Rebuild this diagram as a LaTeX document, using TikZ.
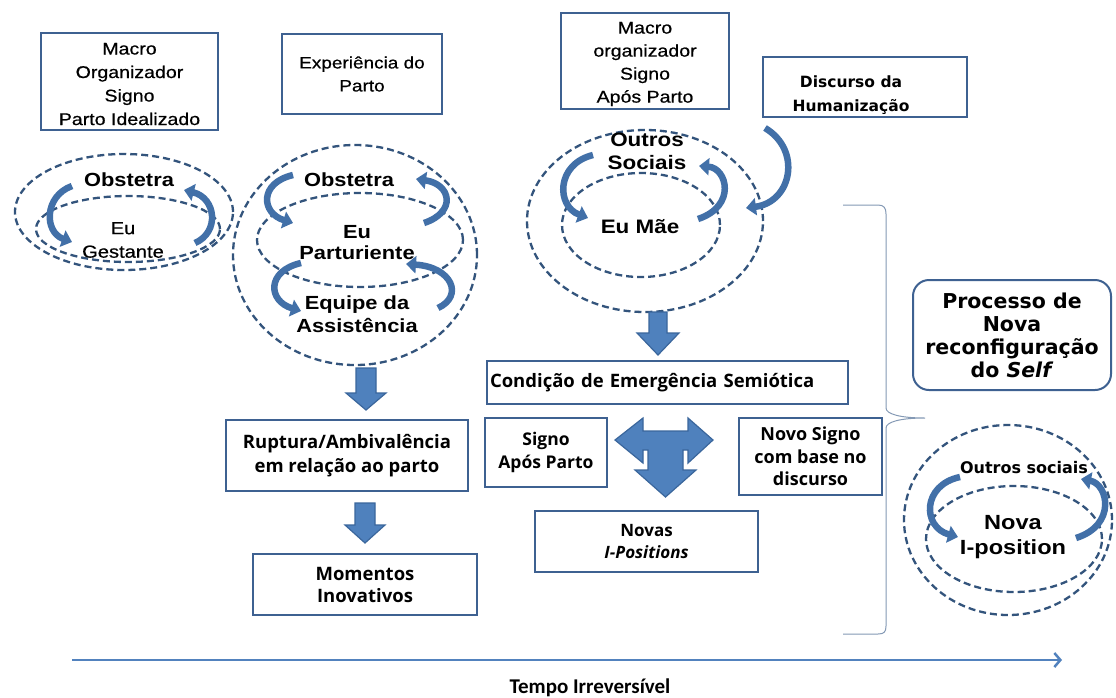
\documentclass[tikz,border=0pt]{standalone}
\usepackage{fontspec}
\setmainfont{Liberation Sans}
\newfontfamily\fa[FakeStretch=1.15]{Liberation Sans}
\newfontfamily\fm[FakeStretch=1.15,FakeBold=0.6]{Liberation Sans}
\newfontfamily\fs{Open Sans}
\newfontfamily\fv{DejaVu Sans}
\newfontfamily\fc{Carlito}
\usetikzlibrary{arrows.meta,shapes.geometric}
\definecolor{boxblue}{HTML}{3E6191}
\definecolor{dashblue}{HTML}{33547C}
\definecolor{arrfill}{HTML}{4F81BD}
\definecolor{arrline}{HTML}{3A669C}
\definecolor{curveblue}{HTML}{4270A8}
\definecolor{timeblue}{HTML}{5282BE}
\definecolor{bracec}{HTML}{8499B5}
\tikzset{
  box/.style={draw=boxblue, line width=2pt, fill=white, inner sep=0pt, align=center},
  plain/.style={inner sep=0pt, align=center},
  dashell/.style={ellipse, draw=dashblue, line width=2.3pt, dash pattern=on 7pt off 4pt, inner sep=0pt},
  ctext/.style={inner sep=0pt, align=center, font=\fa\bfseries\fontsize{18}{23}\selectfont},
  carrow/.style={draw=curveblue, line width=6.5pt, -{Triangle[length=10pt,width=17pt]}},
  blockarr/.style={fill=arrfill, draw=arrline, line width=1.2pt, line join=miter},
}
\begin{document}
\begin{tikzpicture}[x=1pt,y=-1pt]
\useasboundingbox[fill=white] (0,0) rectangle (1116,697);

% top boxes
\node[box, minimum width=177pt, minimum height=97pt] (b1) at (129.5,81.5) {};
\node[plain, font=\fm\fontsize{17}{23.5}\selectfont] (b1t) at (129.5,84) {Macro\\Organizador\\Signo\\Parto Idealizado};
\node[box, minimum width=160pt, minimum height=80pt, font=\fm\fontsize{16.5}{23}\selectfont] (b2) at (362,74) {Experiência do\\Parto};
\node[box, minimum width=168pt, minimum height=96pt] (b3) at (645,61) {};
\node[plain, font=\fm\fontsize{17}{23}\selectfont] (b3t) at (645,64) {Macro\\organizador\\Signo\\Após Parto};
\node[box, minimum width=204pt, minimum height=60pt] (b4) at (865,87) {};
\node[plain, font=\fv\bfseries\fontsize{15.5}{24}\selectfont] (b4t) at (851,95) {Discurso da\\Humanização};

% circle 1
\node[dashell, minimum width=218pt, minimum height=116pt] (e1o) at (124,212) {};
\node[dashell, minimum width=184pt, minimum height=66pt] (e1i) at (128,229) {};
\node[ctext, font=\fa\bfseries\fontsize{19}{23}\selectfont] (e1a) at (129,180) {Obstetra};
\node[ctext, font=\fm\fontsize{17.5}{23.5}\selectfont] (e1b) at (123,240) {Eu\\Gestante};
\draw[carrow] (72,186) .. controls (44,196) and (44,232) .. (72,242);
\draw[carrow] (195,243) .. controls (220,232) and (216,198) .. (184,190);

% circle 2
\node[dashell, minimum width=244pt, minimum height=220pt] (e2o) at (355,255) {};
\node[dashell, minimum width=206pt, minimum height=94pt] (e2i) at (360,240) {};
\node[ctext, font=\fa\bfseries\fontsize{19}{23}\selectfont] (e2a) at (349,180) {Obstetra};
\node[ctext, font=\fa\bfseries\fontsize{19}{21}\selectfont] (e2b) at (357,243) {Eu\\Parturiente};
\node[ctext, font=\fa\bfseries\fontsize{19}{23}\selectfont] (e2c) at (357,314) {Equipe da\\Assistência};
\draw[carrow] (293,175) .. controls (259,183) and (261,213) .. (293,223);
\draw[carrow] (424,223) .. controls (457,212) and (451,184) .. (416,179);
\draw[carrow] (301,263) .. controls (266,271) and (268,301) .. (301,311);
\draw[carrow] (438,308) .. controls (464,296) and (452,267) .. (406,264);

% circle 3
\node[dashell, minimum width=236pt, minimum height=182pt] (e3o) at (645,221) {};
\node[dashell, minimum width=158pt, minimum height=104pt] (e3i) at (641,225) {};
\node[ctext, font=\fa\bfseries\fontsize{19.5}{23}\selectfont] (e3a) at (647,151) {Outros\\Sociais};
\node[ctext, font=\fa\bfseries\fontsize{19.5}{23}\selectfont] (e3b) at (640,227) {Eu Mãe};
\draw[carrow] (593,155) .. controls (556,164) and (556,206) .. (588,218);
\draw[carrow] (698,219) .. controls (737,206) and (727,168) .. (699,166);
\draw[carrow] (765,128) .. controls (802,150) and (792,202) .. (746,208);

% block arrows
\coordinate (a1) at (366,368);
\coordinate (a2) at (365,503);
\coordinate (a3) at (658,312);
\fill[blockarr] (a1) ++(-10,0) -- ++(20,0) -- ++(0,25) -- ++(10,0) -- ++(-20,17) -- ++(-20,-17) -- ++(10,0) -- cycle;
\fill[blockarr] (a2) ++(-10,0) -- ++(20,0) -- ++(0,22) -- ++(10,0) -- ++(-20,18) -- ++(-20,-18) -- ++(10,0) -- cycle;
\fill[blockarr] (a3) ++(-9,0) -- ++(18,0) -- ++(0,21) -- ++(12,0) -- ++(-21,22) -- ++(-21,-22) -- ++(12,0) -- cycle;

% middle boxes
\node[box, minimum width=361pt, minimum height=43pt, text width=355pt, align=left, font=\fs\bfseries\fontsize{18.5}{20}\selectfont] (cond) at (667.5,382.5) {Condição de Emergência Semiótica};
\node[box, minimum width=122pt, minimum height=69pt, font=\fs\bfseries\fontsize{17.5}{23}\selectfont] (signo) at (546,452.5) {Signo\\Após Parto};
\node[box, minimum width=143pt, minimum height=77pt, font=\fs\bfseries\fontsize{18}{22.5}\selectfont] (novo) at (810.5,456.5) {Novo Signo\\com base no\\discurso};
\node[box, minimum width=223pt, minimum height=61pt, font=\fs\bfseries\fontsize{17}{22}\selectfont] (novas) at (646.5,541.5) {Novas\\\textit{I-Positions}};
\node[box, minimum width=242pt, minimum height=71pt, font=\fs\bfseries\fontsize{18.5}{24}\selectfont] (rup) at (347,455.5) {Ruptura/Ambivalência\\em relação ao parto};
\node[box, minimum width=224pt, minimum height=61pt, font=\fs\bfseries\fontsize{18.5}{22}\selectfont] (mom) at (365,584.5) {Momentos\\Inovativos};

% T arrow
\fill[blockarr] (615,440) -- (643,418) -- (643,431) -- (648,431) -- (683,431) -- (688,431) -- (688,418) -- (713,440) -- (688,463) -- (688,450) -- (683,450) -- (683,470) -- (696,470) -- (665.5,497) -- (635,470) -- (648,470) -- (648,450) -- (643,450) -- (643,463) -- cycle;

% brace
\draw[bracec, line width=1pt] (843,205) -- (878,205) .. controls (884,205) and (886,208) .. (886,214) -- (886,408) .. controls (886,414) and (900,418) .. (925,418) .. controls (900,418) and (886,422) .. (886,428) -- (886,626) .. controls (886,632) and (884,634) .. (878,634) -- (843,634);

% right side
\node[box, rounded corners=16pt, minimum width=198pt, minimum height=110pt, font=\fv\bfseries\fontsize{20.5}{23}\selectfont] (proc) at (1012,335) {Processo de\\Nova\\reconfiguração\\do \textit{Self}};
\node[dashell, minimum width=208pt, minimum height=190pt] (e4o) at (1008,520) {};
\node[dashell, minimum width=176pt, minimum height=106pt] (e4i) at (1014,539) {};
\node[plain, font=\fv\bfseries\fontsize{16}{17}\selectfont] (e4a) at (1024,468) {Outros sociais};
\node[ctext, font=\fa\bfseries\fontsize{20.5}{25}\selectfont] (e4b) at (1013,537) {Nova\\I-position};
\draw[carrow] (960,477) .. controls (922,485) and (922,527) .. (958,537);
\draw[carrow] (1076,538) .. controls (1117,525) and (1108,484) .. (1081,479);

% time axis
\coordinate (t0) at (72,660);
\coordinate (t1) at (1062,660);
\draw[timeblue, line width=2.5pt, -{Straight Barb[length=6pt,width=14pt]}] (t0) -- (t1);
\node[plain, font=\fc\bfseries\fontsize{21}{24}\selectfont] (tempo) at (590,688) {Tempo Irreversível};
\end{tikzpicture}
\end{document}
